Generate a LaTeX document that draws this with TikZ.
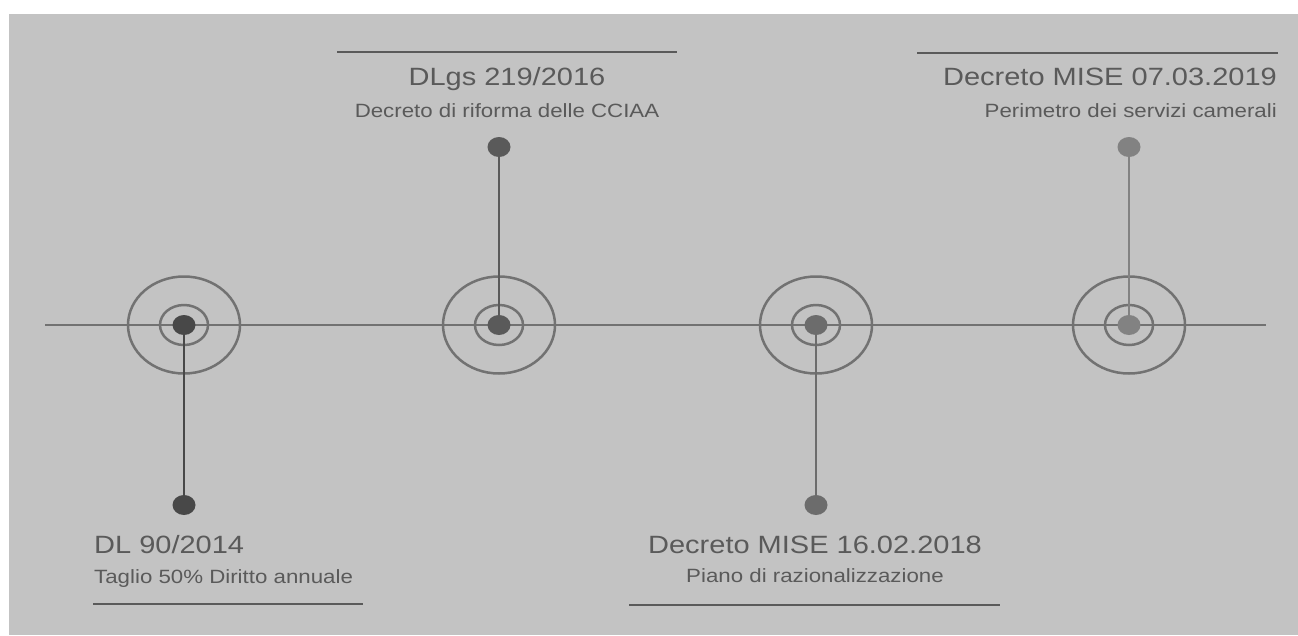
\documentclass[tikz,border=0pt]{standalone}
\usepackage{fontspec}
\setmainfont{Liberation Sans}[FakeStretch=1.16]
\usepackage{tikz}
\usetikzlibrary{positioning,shapes.geometric,calc}
\definecolor{bggray}{HTML}{C3C3C3}
\definecolor{inkgray}{HTML}{5A5A5A}
\definecolor{ringgray}{HTML}{727272}
\definecolor{dotA}{HTML}{484848}
\definecolor{dotB}{HTML}{5A5A5A}
\definecolor{dotC}{HTML}{6C6C6C}
\definecolor{dotD}{HTML}{828282}

\begin{document}
\begin{tikzpicture}[x=1pt,y=1pt,
  dot/.style={ellipse,inner sep=0pt,minimum width=23pt,minimum height=20pt},
  ring/.style={draw=ringgray,line width=2.5pt},
  title node/.style={text=inkgray,font=\fontsize{25}{30}\selectfont,inner sep=0pt},
  sub node/.style={text=inkgray,font=\fontsize{19.2}{23}\selectfont,inner sep=0pt},
  rule/.style={draw=inkgray,line width=2.5pt}]
          \useasboundingbox (0,0) rectangle (1298,-635);
          \fill[white] (0,0) rectangle (1298,-635);
          \fill[bggray] (9,-14) rectangle (1298,-635);
          \coordinate (start) at (45,-325);
          \coordinate (end) at (1266,-325);
          \draw[ringgray,line width=2pt] (start)--(end);
          \coordinate (m1) at (184,-325);
          \coordinate (m2) at (499,-325);
          \coordinate (m3) at (816,-325);
          \coordinate (m4) at (1129,-325);
          \draw[ring] (m1) ellipse [x radius=56, y radius=48.5];
          \draw[ring] (m1) ellipse [x radius=24, y radius=20];
          \draw[ring] (m2) ellipse [x radius=56, y radius=48.5];
          \draw[ring] (m2) ellipse [x radius=24, y radius=20];
          \draw[ring] (m3) ellipse [x radius=56, y radius=48.5];
          \draw[ring] (m3) ellipse [x radius=24, y radius=20];
          \draw[ring] (m4) ellipse [x radius=56, y radius=48.5];
          \draw[ring] (m4) ellipse [x radius=24, y radius=20];
          \node[dot,fill=dotA] (d1) at (m1) {};
          \node[dot,fill=dotB] (d2) at (m2) {};
          \node[dot,fill=dotC] (d3) at (m3) {};
          \node[dot,fill=dotD] (d4) at (m4) {};
          \node[dot,fill=dotA] (e1) at (184,-505) {};
          \node[dot,fill=dotB] (e2) at (499,-147) {};
          \node[dot,fill=dotC] (e3) at (816,-505) {};
          \node[dot,fill=dotD] (e4) at (1129,-147) {};
          \draw[dotA,line width=2.5pt] (d1)--(e1);
          \draw[dotB,line width=2pt] (d2)--(e2);
          \draw[dotC,line width=2pt] (d3)--(e3);
          \draw[dotD,line width=2pt] (d4)--(e4);
          \node[title node,anchor=base west] (t1) at (94,-553) {DL 90/2014};
          \node[sub node,anchor=base west] (s1) at (94,-583) {Taglio 50\% Diritto annuale};
          \draw[rule] (93,-604)--(363,-604);
          \node[title node,anchor=base] (t2) at (507,-85) {DLgs 219/2016};
          \node[sub node,anchor=base] (s2) at (507,-117) {Decreto di riforma delle CCIAA};
          \draw[rule] (337,-52)--(677,-52);
          \node[title node,anchor=base] (t3) at (815,-553) {Decreto MISE 16.02.2018};
          \node[sub node,anchor=base] (s3) at (815,-582) {Piano di razionalizzazione};
          \draw[rule] (629,-605)--(1000,-605);
          \node[title node,anchor=base east] (t4) at (1277,-85) {Decreto MISE 07.03.2019};
          \node[sub node,anchor=base east] (s4) at (1277,-117) {Perimetro dei servizi camerali};
          \draw[rule] (917,-53)--(1278,-53);
        \end{tikzpicture}
\end{document}
